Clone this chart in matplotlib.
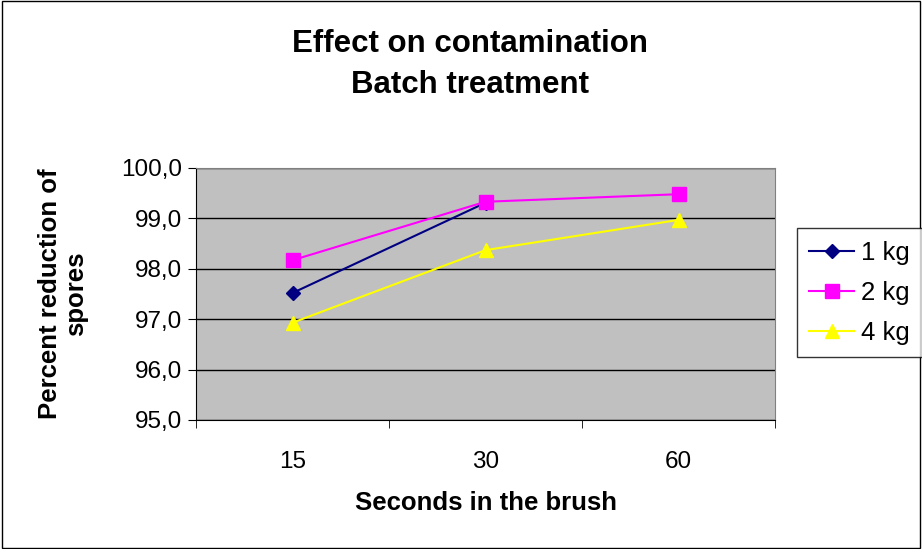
import numpy as np
import matplotlib.pyplot as plt
from matplotlib.patches import Rectangle

plt.rcParams['font.family'] = ['Liberation Sans', 'DejaVu Sans']

categories = ['15', '30', '60']
series_names = ['1 kg', '2 kg', '4 kg']
vals_1kg = [97.52, 99.31, np.nan]
vals_2kg = [98.17, 99.33, 99.48]
vals_4kg = [96.93, 98.37, 98.97]
yticks = [95.0, 96.0, 97.0, 98.0, 99.0, 100.0]

colors = ['#000080', '#FF00FF', '#FFFF00']
markers = ['D', 's', '^']
msizes = [7, 10, 10]

fig = plt.figure(figsize=(9.22, 5.49), dpi=100)
fig.patches.append(Rectangle((0.002, 0.002), 0.996, 0.996, transform=fig.transFigure,
                             fill=False, edgecolor='black', linewidth=1))
ax = fig.add_axes([0.2126, 0.235, 0.628, 0.459])
ax.set_facecolor('#C0C0C0')

x = np.arange(len(categories))
for vals, name, c, m, ms in zip([vals_1kg, vals_2kg, vals_4kg], series_names, colors, markers, msizes):
    ax.plot(x, vals, color=c, marker=m, markersize=ms, linewidth=1.5, label=name, zorder=3)

ax.set_xlim(-0.5, 2.5)
ax.set_ylim(95, 100)
ax.set_yticks(yticks)
ax.set_yticklabels([f'{v:.1f}'.replace('.', ',') for v in yticks], fontsize=17.5)
ax.set_xticks(x)
ax.set_xticklabels(categories, fontsize=17.5)
ax.set_xticks([-0.5, 0.5, 1.5, 2.5], minor=True)
ax.tick_params(axis='x', which='major', length=0, pad=22)
ax.tick_params(axis='x', which='minor', length=6, direction='out', color='black')
ax.tick_params(axis='y', length=6, direction='out', pad=4)
ax.grid(axis='y', color='black', linewidth=1)
ax.set_axisbelow(True)
for s in ['top', 'right']:
    ax.spines[s].set_color('#808080')
for s in ['left', 'bottom']:
    ax.spines[s].set_color('black')

ax.set_xlabel('Seconds in the brush', fontsize=18.5, fontweight='bold', labelpad=13)
ax.set_ylabel('Percent reduction of\nspores', fontsize=18.5, fontweight='bold', labelpad=24,
              linespacing=1.1)

fig.text(0.51, 0.92, 'Effect on contamination', ha='center', va='center', fontsize=22.5, fontweight='bold')
fig.text(0.51, 0.845, 'Batch treatment', ha='center', va='center', fontsize=22.5, fontweight='bold')

leg = fig.legend(loc='upper left', bbox_to_anchor=(0.864, 0.585), fontsize=18.5, frameon=True,
                 fancybox=False, edgecolor='black', handlelength=1.75, borderpad=0.5,
                 labelspacing=0.62, handletextpad=0.25, borderaxespad=0)
leg.get_frame().set_linewidth(1)

fig.savefig('out.png', dpi=100)
